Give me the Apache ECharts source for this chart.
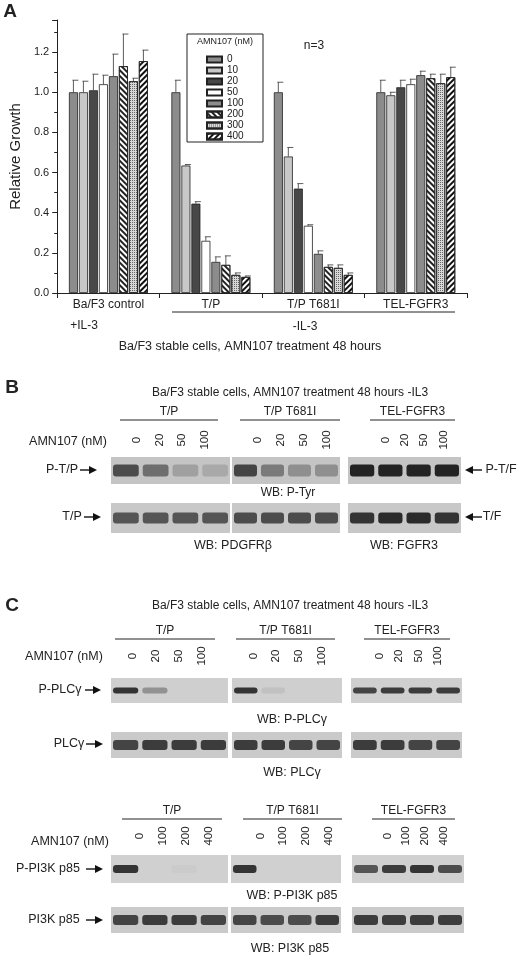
<!DOCTYPE html>
<html><head><meta charset="utf-8">
<script src="https://cdn.jsdelivr.net/npm/echarts@6/dist/echarts.min.js"></script>
<style>html,body{margin:0;padding:0;background:#fff}#c{width:520px;height:959px}</style>
</head><body><div id="c"></div>
<script>
const categories = ['Ba/F3 control', 'T/P', 'T/P T681I', 'TEL-FGFR3'];
const doses = ['0', '10', '20', '50', '100', '200', '300', '400'];
const v0   = [1.00, 1.00, 1.00, 1.00];
const v10  = [1.00, 0.635, 0.68, 0.985];
const v20  = [1.01, 0.445, 0.52, 1.025];
const v50  = [1.04, 0.26, 0.335, 1.04];
const v100 = [1.08, 0.155, 0.195, 1.085];
const v200 = [1.13, 0.14, 0.13, 1.07];
const v300 = [1.055, 0.09, 0.125, 1.045];
const v400 = [1.155, 0.08, 0.09, 1.075];
const e0   = [1.06, 1.06, 1.05, 1.06];
const e10  = [1.055, 0.64, 0.725, 1.00];
const e20  = [1.09, 0.455, 0.545, 1.06];
const e50  = [1.085, 0.28, 0.34, 1.065];
const e100 = [1.19, 0.18, 0.21, 1.105];
const e200 = [1.29, 0.185, 0.14, 1.09];
const e300 = [1.07, 0.10, 0.14, 1.09];
const e400 = [1.21, 0.085, 0.10, 1.125];
const yTicks = [0, 0.2, 0.4, 0.6, 0.8, 1.0, 1.2];
const bPTyr   = [[0.75,0.6,0.35,0.3],[0.8,0.55,0.45,0.45],[1,1,1,1]];
const bPDGFR  = [[0.7,0.7,0.7,0.7],[0.75,0.75,0.75,0.75],[0.9,0.95,0.95,0.9]];
const bPPLC   = [[0.9,0.45,0,0],[0.9,0.15,0,0],[0.8,0.85,0.85,0.85]];
const bPLC    = [[0.8,0.85,0.85,0.85],[0.85,0.85,0.8,0.8],[0.85,0.85,0.8,0.8]];
const bPPI3K  = [[0.9,0,0.03,0],[0.9,0,0,0],[0.7,0.85,0.9,0.75]];
const bPI3K   = [[0.8,0.85,0.85,0.8],[0.8,0.75,0.75,0.85],[0.85,0.85,0.85,0.85]];
const lanesB = ['0','20','50','100'];
const lanesC2 = ['0','100','200','400'];

const vals=[v0,v10,v20,v50,v100,v200,v300,v400];
const errs=[e0,e10,e20,e50,e100,e200,e300,e400];
const FONT='Liberation Sans';
const fills=['#8c8c8c','#c8c8c8','#484848','#ffffff','#8c8c8c','#ffffff','#d8d8d8','#ffffff'];
function decalFor(i){
  if(i===5) return {symbol:'rect',symbolSize:1,dashArrayX:[1,0],dashArrayY:[1.5,2],rotation:Math.PI/4,color:'#222'};
  if(i===6) return {symbol:'rect',symbolSize:1,dashArrayX:[1,1],dashArrayY:[1,1],rotation:0,color:'#666'};
  if(i===7) return {symbol:'rect',symbolSize:1,dashArrayX:[1,0],dashArrayY:[2,2],rotation:-Math.PI/4,color:'#111'};
  return null;
}
const series=[];
doses.forEach((d,i)=>{
  const it={color:fills[i],borderColor:'#222',borderWidth:0.8};
  const dc=decalFor(i); if(dc) it.decal=dc;
  series.push({type:'bar',name:d,data:vals[i],barWidth:9,barGap:'11%',itemStyle:it,z:2});
});
doses.forEach((d,i)=>{
  series.push({type:'custom',name:'err'+d,z:3,
    data:vals[i].map((v,k)=>[k,v,errs[i][k]]),encode:{x:0,y:[1,2]},
    renderItem:(p,api)=>{
      const a=api.coord([api.value(0),api.value(1)]);const b=api.coord([api.value(0),api.value(2)]);
      const x=a[0]+(i-3.5)*10; const st={stroke:'#333',lineWidth:0.8};
      return {type:'group',children:[
        {type:'line',shape:{x1:x,y1:a[1],x2:x,y2:b[1]},style:st},
        {type:'line',shape:{x1:x-1,y1:b[1],x2:x+5,y2:b[1]},style:st}]};
    }});
});

const G=[];
function T(x,y,text,o,rot){const e={type:'text',x:x,y:y,style:Object.assign({text:text,font:'12px '+FONT,fill:'#222',textAlign:'center',textVerticalAlign:'middle'},o||{})};if(rot)e.rotation=rot;G.push(e);}
function L(x1,y1,x2,y2,w){G.push({type:'line',shape:{x1,y1,x2,y2},style:{stroke:'#222',lineWidth:w||1}});}
function arrowR(x1,x2,y){L(x1,y,x2-6,y,1.5);G.push({type:'polygon',shape:{points:[[x2-8,y-4],[x2,y],[x2-8,y+4]]},style:{fill:'#111'}});}
function arrowL(x1,x2,y){L(x1+6,y,x2,y,1.5);G.push({type:'polygon',shape:{points:[[x1+8,y-4],[x1,y],[x1+8,y+4]]},style:{fill:'#111'}});}
function blot(boxes,y0,y1,data,bg,bh){
  boxes.forEach((bx,g)=>{
    G.push({type:'rect',shape:{x:bx[0],y:y0,width:bx[1]-bx[0],height:y1-y0},style:{fill:bg}});
    const w=(bx[1]-bx[0])/4;
    data[g].forEach((v,k)=>{
      if(v<=0.01) return;
      const c=Math.round(200-v*165);
      G.push({type:'rect',shape:{x:bx[0]+k*w+2,y:(y0+y1)/2-bh/2,width:w-4,height:bh,r:3},style:{fill:'rgb('+c+','+c+','+c+')',opacity:Math.min(1,0.3+v)}});
    });
  });
}
function header(y,groups,lanes,numY){
  groups.forEach(g=>{T((g[0]+g[1])/2,y,g[2],{font:'12px '+FONT});L(g[0],y+8,g[1],y+8,1);});
  groups.forEach(g=>{const w=(g[1]-g[0]-8)/4;lanes.forEach((l,k)=>T(g[0]+6+(k+0.5)*w,numY,l,{font:'11.5px '+FONT},Math.PI/2));});
}
T(10,12,'A',{font:'bold 19px '+FONT});
T(314,46,'n=3',{font:'12px '+FONT});
G.push({type:'rect',shape:{x:187,y:34,width:76,height:108},style:{fill:'none',stroke:'#222',lineWidth:1},z:5});
T(225,42,'AMN107 (nM)',{font:'9px '+FONT});
T(84,326,'+IL-3',{font:'12px '+FONT});
L(172,312,455,312,1);
T(305,327,'-IL-3',{font:'12px '+FONT});
T(250,347,'Ba/F3 stable cells, AMN107 treatment 48 hours',{font:'12.5px '+FONT});
// Panel B
T(12,388,'B',{font:'bold 19px '+FONT});
T(290,393,'Ba/F3 stable cells, AMN107 treatment 48 hours -IL3',{font:'12px '+FONT});
header(412,[[120,218,'T/P'],[240,340,'T/P T681I'],[370,455,'TEL-FGFR3']],lanesB,440);
T(68,442,'AMN107 (nM)',{font:'12.5px '+FONT});
const boxB=[[111,230],[232,340],[348,461]];
blot(boxB,457,484,bPTyr,'#c4c4c4',12);
T(62,470,'P-T/P',{font:'12.5px '+FONT});arrowR(80,97,470);
arrowL(465,482,470);T(501,470,'P-T/F',{font:'12.5px '+FONT});
T(288,493,'WB: P-Tyr',{font:'12px '+FONT});
blot(boxB,503,533,bPDGFR,'#c8c8c8',11);
T(72,517,'T/P',{font:'12.5px '+FONT});arrowR(84,101,517);
arrowL(465,482,517);T(492,517,'T/F',{font:'12.5px '+FONT});
T(233,546,'WB: PDGFRβ',{font:'12.5px '+FONT});
T(404,546,'WB: FGFR3',{font:'12.5px '+FONT});
// Panel C
T(12,606,'C',{font:'bold 19px '+FONT});
T(290,606,'Ba/F3 stable cells, AMN107 treatment 48 hours -IL3',{font:'12px '+FONT});
header(631,[[115,215,'T/P'],[236,335,'T/P T681I'],[364,450,'TEL-FGFR3']],lanesB,656);
T(64,657,'AMN107 (nM)',{font:'12.5px '+FONT});
const boxC1=[[111,228],[232,342],[351,462]];
blot(boxC1,678,703,bPPLC,'#cfcfcf',6);
T(60,690,'P-PLCγ',{font:'12.5px '+FONT});arrowR(85,101,690);
T(292,720,'WB: P-PLCγ',{font:'12.5px '+FONT});
blot(boxC1,732,758,bPLC,'#cacaca',10);
T(69,744,'PLCγ',{font:'12.5px '+FONT});arrowR(86,103,744);
T(292,773,'WB: PLCγ',{font:'12.5px '+FONT});
header(811,[[122,222,'T/P'],[243,342,'T/P T681I'],[372,455,'TEL-FGFR3']],lanesC2,836);
T(70,842,'AMN107 (nM)',{font:'12.5px '+FONT});
const boxC2=[[111,228],[231,341],[352,464]];
blot(boxC2,855,883,bPPI3K,'#d0d0d0',8);
T(48,869,'P-PI3K p85',{font:'12.5px '+FONT});arrowR(86,103,869);
T(292,896,'WB: P-PI3K p85',{font:'12.5px '+FONT});
blot(boxC2,907,933,bPI3K,'#cacaca',10);
T(54,920,'PI3K p85',{font:'12.5px '+FONT});arrowR(86,103,920);
T(290,949,'WB: PI3K p85',{font:'12.5px '+FONT});

const chart=echarts.init(document.getElementById('c'));
chart.setOption({
  animation:false,
  textStyle:{fontFamily:FONT},
  grid:{left:49,right:53,top:20,bottom:666,containLabel:false},
  legend:{data:doses.map(d=>({name:d,icon:'rect'})),left:201,top:49,orient:'vertical',itemWidth:15,itemHeight:6,itemGap:0,
    textStyle:{fontSize:10,lineHeight:11,color:'#222'},selectedMode:false,z:6},
  xAxis:{type:'category',data:categories,
    axisLine:{lineStyle:{color:'#222'}},axisTick:{show:true,length:5,lineStyle:{color:'#222'}},
    axisLabel:{fontSize:12,color:'#222',margin:6}},
  yAxis:{type:'value',min:0,max:1.36,interval:0.2,
    axisLine:{show:true,lineStyle:{color:'#222'}},axisTick:{show:true,length:5,lineStyle:{color:'#222'}},
    minorTick:{show:true,splitNumber:2,length:3,lineStyle:{color:'#222'}},
    splitLine:{show:false},
    axisLabel:{fontSize:11,color:'#222',showMaxLabel:false,formatter:v=>yTicks.indexOf(+v.toFixed(1))>=0?v.toFixed(1):''},
    name:'Relative Growth',nameLocation:'middle',nameGap:32,nameTextStyle:{fontSize:15,color:'#222'}},
  series:series,
  graphic:G
});
</script></body></html>
